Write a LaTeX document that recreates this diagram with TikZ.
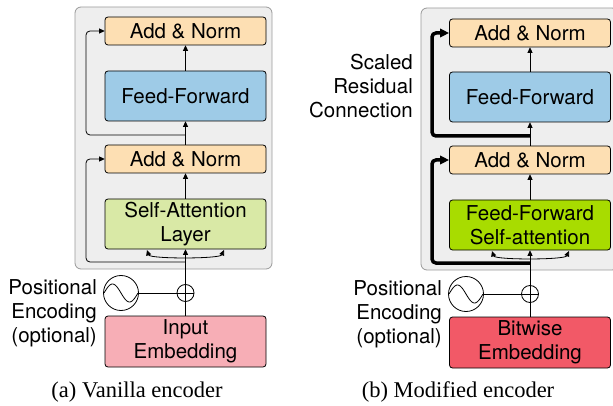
\documentclass[tikz,border=0pt]{standalone}
\usepackage{fontspec}
\setmainfont{TeX Gyre Heros}
\newfontfamily\capfont{Liberation Serif}
\usepackage{tikz}
\usepackage{xcolor}
\usetikzlibrary{arrows.meta}
\definecolor{normcol}{HTML}{FDDFB3}
\definecolor{ffcol}{HTML}{9ECBE7}
\definecolor{attcol}{HTML}{D9E9A6}
\definecolor{attnew}{HTML}{A8DC00}
\definecolor{embcol}{HTML}{F7AEB6}
\definecolor{embnew}{HTML}{F25967}
\definecolor{panelcol}{HTML}{EEEEEE}
\tikzset{%
  tipA/.tip={Triangle[angle=50:6pt]},
  tipB/.tip={Triangle[angle=50:10pt]},
  blk/.style={draw=black, thick, rounded corners=3pt, minimum width=161pt, inner sep=0pt, align=center, font=\fontsize{20.5}{24}\selectfont},
  normbox/.style={blk, fill=normcol, minimum height=28pt},
  bigbox/.style={blk, minimum height=50pt},
  panel/.style={draw=black!40, fill=panelcol, rounded corners=6pt, thick},
  link/.style={thick, -tipA},
  reslink/.style={line width=3.5pt, rounded corners=4pt, -tipB},
  side/.style={align=right, font=\fontsize{20.5}{24}\selectfont, inner sep=0pt},
  plusnode/.style={draw, thick, circle, minimum size=17pt, inner sep=0pt,
    path picture={\draw[thick] (path picture bounding box.north) -- (path picture bounding box.south)
      (path picture bounding box.west) -- (path picture bounding box.east);}},
  sinenode/.style={draw, thick, circle, minimum size=35pt, inner sep=0pt,
    path picture={\draw[thick, shift={(path picture bounding box.center)}]
      plot[domain=-17:17, samples=50, smooth] (\x, {9*sin(\x*180/17)});}},
}

\begin{document}
\begin{tikzpicture}[x=1pt,y=-1pt]
\useasboundingbox (0,0) rectangle (613,406);
% (a) vanilla encoder
\draw[panel] (75,7) rectangle (272,269);
\node[normbox] (an1l) at (185.5,31) {Add \& Norm};
\node[bigbox, fill=ffcol] (ffl) at (185.5,96) {Feed-Forward};
\node[normbox] (an2l) at (185.5,159) {Add \& Norm};
\node[bigbox, fill=attcol] (sal) at (185.5,224) {Self-Attention\\Layer};
\node[bigbox, fill=embcol, minimum height=51pt] (embl) at (185.5,341.5) {Input\\Embedding};
\node[plusnode] (plusl) at (185.5,293) {};
\node[sinenode] (sinl) at (121,293) {};
\node[side, anchor=east] (posl) at (97,313) {Positional\\Encoding\\(optional)};
\coordinate (resl1) at (185.5,262);
\coordinate (resl2) at (185.5,135);
\coordinate (spl1) at (147,250);
\coordinate (spl2) at (224,250);
\draw[thick] (embl) -- (plusl);
\draw[thick] (sinl) -- (plusl);
\draw[link] (plusl) -- (sal);
\draw[thick, tipA-tipA] (spl1) .. controls (150,259) and (220,259) .. (spl2);
\draw[link] (sal) -- (an2l);
\draw[link] (an2l) -- (ffl);
\draw[link] (ffl) -- (an1l);
\draw[link, rounded corners=4pt] (resl1) -- (86,262) -- (86,159) -- (an2l.west);
\draw[link, rounded corners=4pt] (resl2) -- (86,135) -- (86,31) -- (an1l.west);
\node[font=\capfont\fontsize{22.5}{26}\selectfont] (capl) at (137,392) {(a) Vanilla encoder};
% (b) modified encoder
\draw[panel] (421,8) rectangle (618,270);
\node[normbox] (an1r) at (530,33) {Add \& Norm};
\node[bigbox, fill=ffcol] (ffr) at (530,97) {Feed-Forward};
\node[normbox] (an2r) at (530,160) {Add \& Norm};
\node[bigbox, fill=attnew] (sar) at (530,225) {Feed-Forward\\Self-attention};
\node[bigbox, fill=embnew, minimum height=51pt] (embr) at (530,342.5) {Bitwise\\Embedding};
\node[plusnode] (plusr) at (530,294) {};
\node[sinenode] (sinr) at (466,294) {};
\node[side, anchor=east] (posr) at (442,314) {Positional\\Encoding\\(optional)};
\node[side, anchor=east] (scal) at (413,86) {Scaled\\Residual\\Connection};
\coordinate (resr1) at (530,263);
\coordinate (resr2) at (530,136);
\coordinate (spr1) at (492,251);
\coordinate (spr2) at (569,251);
\draw[thick] (embr) -- (plusr);
\draw[thick] (sinr) -- (plusr);
\draw[link] (plusr) -- (sar);
\draw[thick, tipA-tipA] (spr1) .. controls (495,260) and (565,260) .. (spr2);
\draw[link] (sar) -- (an2r);
\draw[link] (an2r) -- (ffr);
\draw[link] (ffr) -- (an1r);
\draw[reslink] (resr1) -- (432,263) -- (432,160) -- (an2r.west);
\draw[reslink] (resr2) -- (432,136) -- (432,33) -- (an1r.west);
\node[font=\capfont\fontsize{22.5}{26}\selectfont] (capr) at (458,392) {(b) Modified encoder};
\end{tikzpicture}
\end{document}
